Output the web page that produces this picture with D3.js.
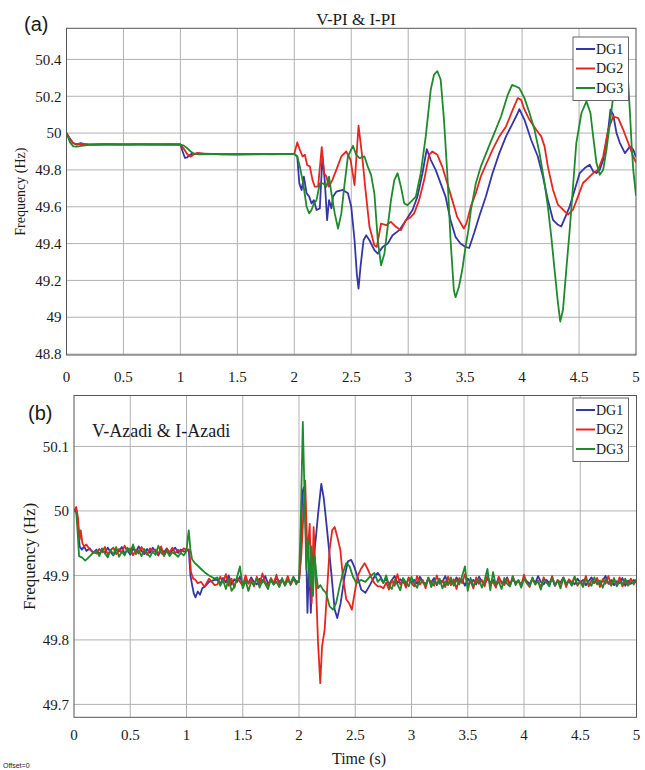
<!DOCTYPE html>
<html>
<head>
<meta charset="utf-8">
<script src="https://cdn.jsdelivr.net/npm/d3@7"></script>
<style>
  body { margin: 0; background: #fff; }
  svg text { font-family: "Liberation Serif", "Times New Roman", serif; fill: #1a1a1a; }
</style>
</head>
<body>
<div id="chart"></div>
<script>
// ---- data ----
const timeTicks = [0, 0.5, 1, 1.5, 2, 2.5, 3, 3.5, 4, 4.5, 5];
const freqTicksA = [48.8, 49, 49.2, 49.4, 49.6, 49.8, 50, 50.2, 50.4];
const freqTicksB = [49.7, 49.8, 49.9, 50, 50.1];
const seriesNames = ["DG1", "DG2", "DG3"];

// (a) V-PI & I-PI : [time s, frequency Hz]
const piDG1 = [[0,50],[0.03,49.97],[0.06,49.945],[0.09,49.937],[0.12,49.945],[0.16,49.94],[0.25,49.938],[0.4,49.94],[0.55,49.938],[0.7,49.94],[0.85,49.938],[1.0,49.938],
  [1.02,49.9],[1.04,49.865],[1.06,49.868],[1.08,49.88],[1.1,49.887],[1.2,49.888],[1.35,49.885],[1.5,49.886],[1.65,49.884],[1.8,49.886],[2.0,49.887],
  [2.026,49.873],[2.044,49.727],[2.064,49.691],[2.084,49.764],[2.108,49.673],[2.131,49.655],[2.151,49.618],[2.172,49.636],[2.195,49.582],[2.224,49.591],
  [2.247,49.873],[2.267,49.745],[2.288,49.527],[2.305,49.636],[2.326,49.591],[2.34,49.655],[2.369,49.682],[2.427,49.691],[2.471,49.673],[2.5,49.6],
  [2.529,49.418],[2.549,49.236],[2.564,49.155],[2.581,49.273],[2.608,49.418],[2.631,49.445],[2.66,49.418],[2.703,49.364],[2.733,49.345],[2.776,49.382],
  [2.82,49.4],[2.863,49.445],[2.922,49.473],[2.98,49.527],[3.038,49.582],[3.081,49.655],[3.125,49.782],[3.163,49.913],[3.198,49.855],[3.241,49.8],
  [3.285,49.727],[3.328,49.655],[3.372,49.527],[3.416,49.436],[3.459,49.4],[3.503,49.382],[3.535,49.376],[3.579,49.457],[3.624,49.548],[3.682,49.656],
  [3.741,49.783],[3.8,49.891],[3.859,49.982],[3.918,50.054],[3.962,50.109],[3.976,50.13],[4.021,50.072],[4.079,49.964],[4.138,49.873],[4.182,49.765],
  [4.226,49.638],[4.271,49.529],[4.315,49.502],[4.344,49.493],[4.382,49.548],[4.418,49.602],[4.462,49.692],[4.506,49.783],[4.55,49.81],[4.594,49.828],
  [4.624,49.792],[4.653,49.783],[4.682,49.801],[4.712,49.855],[4.756,50.018],[4.776,50.127],[4.8,50.1],[4.829,50.0],[4.859,49.946],[4.903,49.891],
  [4.947,49.928],[4.976,49.91],[5.0,49.87]];

const piDG2 = [[0,50],[0.03,49.965],[0.06,49.945],[0.09,49.94],[0.13,49.942],[0.2,49.937],[0.3,49.94],[0.45,49.937],[0.6,49.94],[0.75,49.937],[0.9,49.94],[1.0,49.938],
  [1.03,49.915],[1.06,49.885],[1.09,49.872],[1.12,49.885],[1.15,49.893],[1.2,49.888],[1.35,49.886],[1.5,49.884],[1.65,49.887],[1.8,49.885],[2.0,49.887],
  [2.026,49.949],[2.049,49.909],[2.073,49.873],[2.093,49.882],[2.113,49.827],[2.137,49.818],[2.16,49.745],[2.18,49.709],[2.209,49.709],[2.241,49.924],
  [2.262,49.782],[2.282,49.764],[2.305,49.709],[2.334,49.745],[2.369,49.8],[2.413,49.873],[2.456,49.9],[2.494,49.855],[2.529,49.718],[2.564,50.04],
  [2.596,49.873],[2.625,49.691],[2.66,49.491],[2.703,49.391],[2.724,49.382],[2.762,49.509],[2.805,49.5],[2.849,49.518],[2.892,49.491],[2.936,49.473],
  [2.98,49.527],[3.023,49.545],[3.052,49.564],[3.096,49.636],[3.14,49.745],[3.183,49.882],[3.212,49.9],[3.256,49.882],[3.299,49.818],[3.343,49.727],
  [3.387,49.636],[3.43,49.545],[3.488,49.482],[3.512,49.511],[3.55,49.602],[3.594,49.674],[3.638,49.765],[3.682,49.828],[3.741,49.91],[3.8,49.982],
  [3.859,50.036],[3.918,50.127],[3.962,50.19],[3.991,50.181],[4.021,50.127],[4.065,50.072],[4.124,50.018],[4.168,49.982],[4.197,49.928],[4.226,49.819],
  [4.271,49.692],[4.315,49.611],[4.359,49.584],[4.403,49.557],[4.447,49.584],[4.491,49.656],[4.535,49.729],[4.579,49.756],[4.624,49.783],[4.668,49.801],
  [4.712,49.873],[4.756,50.018],[4.8,50.09],[4.844,50.081],[4.888,50.018],[4.932,49.946],[4.976,49.873],[5.0,49.84]];

const piDG3 = [[0,50],[0.03,49.95],[0.06,49.928],[0.09,49.926],[0.13,49.93],[0.2,49.936],[0.4,49.938],[0.6,49.937],[0.8,49.938],[1.0,49.937],
  [1.03,49.932],[1.06,49.918],[1.09,49.9],[1.12,49.888],[1.16,49.885],[1.3,49.886],[1.5,49.885],[1.7,49.886],[2.0,49.886],
  [2.026,49.873],[2.049,49.818],[2.078,49.727],[2.108,49.6],[2.131,49.564],[2.151,49.582],[2.172,49.618],[2.195,49.636],[2.224,49.727],[2.253,49.727],
  [2.282,49.709],[2.305,49.764],[2.326,49.673],[2.355,49.564],[2.384,49.482],[2.413,49.564],[2.442,49.727],[2.471,49.873],[2.515,49.931],[2.544,49.882],
  [2.573,49.864],[2.616,49.873],[2.645,49.818],[2.674,49.773],[2.703,49.673],[2.733,49.418],[2.762,49.282],[2.791,49.345],[2.82,49.491],[2.849,49.636],
  [2.878,49.745],[2.907,49.782],[2.936,49.709],[2.965,49.618],[2.994,49.609],[3.038,49.636],[3.067,49.655],[3.11,49.782],[3.154,49.982],[3.198,50.236],
  [3.227,50.318],[3.256,50.336],[3.285,50.291],[3.314,50.073],[3.343,49.782],[3.372,49.418],[3.401,49.145],[3.416,49.109],[3.445,49.164],[3.474,49.255],
  [3.503,49.38],[3.53,49.48],[3.55,49.58],[3.594,49.728],[3.638,49.819],[3.697,49.91],[3.756,50.0],[3.815,50.09],[3.874,50.208],[3.912,50.262],
  [3.947,50.253],[3.976,50.244],[4.021,50.19],[4.065,50.109],[4.109,50.018],[4.153,49.891],[4.197,49.729],[4.226,49.602],[4.256,49.439],[4.285,49.258],
  [4.315,49.077],[4.335,48.977],[4.359,49.041],[4.388,49.258],[4.418,49.475],[4.447,49.71],[4.476,49.946],[4.521,50.109],[4.565,50.172],[4.6,50.109],
  [4.624,49.982],[4.653,49.837],[4.682,49.774],[4.712,49.801],[4.741,49.91],[4.771,50.054],[4.8,50.2],[4.83,50.28],[4.88,50.34],[4.915,50.33],
  [4.93,50.29],[4.947,50.11],[4.962,49.93],[4.976,49.8],[5.0,49.66]];

// (b) V-Azadi & I-Azadi : transients as [time s, frequency Hz]
const azDG1 = [[0,50],[0.02,50],[0.04,49.97],[0.05,49.945],[0.07,49.94],[0.09,49.945],[0.11,49.938],[0.14,49.942],[0.17,49.935],
  [1.0,49.938],[1.02,49.94],[1.035,49.9],[1.05,49.885],[1.065,49.872],[1.08,49.866],[1.1,49.875],[1.12,49.87],[1.14,49.88],[1.17,49.884],[1.2,49.89],[1.25,49.893],
  [2.0,49.89],[2.015,49.93],[2.03,50.03],[2.045,50.037],[2.06,49.97],[2.075,49.842],[2.09,49.92],[2.105,49.842],[2.12,49.91],[2.148,49.955],[2.17,49.996],
  [2.198,50.042],[2.22,50.02],[2.25,49.97],[2.287,49.904],[2.317,49.847],[2.34,49.834],[2.37,49.857],[2.405,49.898],[2.435,49.922],[2.464,49.924],
  [2.49,49.914],[2.52,49.898],[2.553,49.878],[2.59,49.873],[2.63,49.885],[2.67,49.898],[2.7,49.904]];
const azDG2 = [[0,50],[0.02,50.006],[0.035,49.99],[0.05,49.955],[0.06,49.97],[0.075,49.95],[0.09,49.945],[0.11,49.948],[0.14,49.94],[0.17,49.936],
  [1.0,49.94],[1.025,49.94],[1.04,49.905],[1.06,49.895],[1.08,49.893],[1.1,49.888],[1.13,49.89],[1.16,49.882],[1.2,49.895],[1.25,49.885],
  [2.0,49.89],[2.02,49.93],[2.035,49.98],[2.055,50.047],[2.075,49.929],[2.095,49.98],[2.112,49.857],[2.13,49.975],[2.15,49.89],[2.169,49.796],
  [2.189,49.733],[2.205,49.79],[2.228,49.816],[2.25,49.878],[2.272,49.94],[2.295,49.97],[2.317,49.975],[2.34,49.96],[2.367,49.94],[2.39,49.898],
  [2.42,49.863],[2.445,49.857],[2.47,49.847],[2.49,49.868],[2.52,49.898],[2.55,49.91],[2.583,49.919],[2.61,49.91],[2.64,49.898],[2.67,49.888],[2.7,49.883]];
const azDG3 = [[0,50],[0.02,49.998],[0.035,49.96],[0.045,49.93],[0.07,49.928],[0.1,49.923],[0.13,49.928],[0.17,49.935],
  [1.0,49.938],[1.01,49.955],[1.02,49.97],[1.035,49.94],[1.05,49.925],[1.07,49.92],[1.1,49.915],[1.13,49.91],[1.16,49.905],[1.2,49.9],[1.25,49.895],
  [2.0,49.893],[2.015,49.98],[2.034,50.138],[2.05,50.02],[2.065,49.91],[2.08,49.955],[2.095,49.883],[2.109,49.945],[2.124,49.868],[2.139,49.93],
  [2.155,49.9],[2.169,49.88],[2.19,49.885],[2.213,49.878],[2.24,49.873],[2.272,49.852],[2.302,49.847],[2.33,49.857],[2.361,49.883],[2.39,49.904],
  [2.42,49.919],[2.45,49.914],[2.48,49.898],[2.51,49.888],[2.55,49.893],[2.59,49.89],[2.63,49.898],[2.67,49.904],[2.7,49.89]];

// (b) steady-state ripple, sampled every 0.025 s from the given start time
const rippleStep = 0.025;
const rippleStarts = [0.2, 1.275, 2.725];
const azDG1Ripple = [
  [49.940,49.933,49.941,49.935,49.943,49.936,49.931,49.940,49.937,49.944,49.934,49.939,49.932,49.942,49.936,49.945,
   49.938,49.933,49.941,49.935,49.943,49.937,49.931,49.940,49.936,49.942,49.934,49.939,49.943,49.935,49.940,49.937],
  [49.893,49.887,49.896,49.889,49.900,49.886,49.894,49.890,49.898,49.885,49.893,49.888,49.897,49.890,49.886,
   49.895,49.889,49.899,49.887,49.892,49.886,49.896,49.890,49.894,49.885,49.893,49.888,49.897,49.891],
  [49.898,49.889,49.895,49.886,49.893,49.899,49.888,49.894,49.890,49.885,49.896,49.889,49.893,49.887,49.898,49.891,
   49.886,49.894,49.889,49.896,49.885,49.893,49.890,49.899,49.887,49.892,49.886,49.897,49.890,49.894,49.884,49.895,
   49.889,49.893,49.886,49.898,49.891,49.887,49.895,49.889,49.893,49.885,49.896,49.890,49.888,49.897,49.886,49.894,
   49.889,49.892,49.885,49.896,49.891,49.887,49.894,49.888,49.899,49.890,49.886,49.893,49.888,49.895,49.884,49.892,
   49.889,49.897,49.887,49.893,49.890,49.886,49.895,49.889,49.893,49.885,49.891,49.897,49.888,49.894,49.886,49.892,
   49.899,49.887,49.893,49.885,49.891,49.888,49.896,49.884,49.892,49.887,49.893,49.889]];
const azDG2Ripple = [
  [49.934,49.941,49.936,49.944,49.932,49.939,49.943,49.933,49.941,49.935,49.946,49.937,49.942,49.931,49.940,49.934,
   49.944,49.938,49.932,49.942,49.936,49.940,49.933,49.945,49.930,49.941,49.936,49.943,49.934,49.940,49.936,49.942],
  [49.886,49.898,49.889,49.902,49.884,49.895,49.881,49.897,49.890,49.884,49.900,49.887,49.894,49.883,49.898,
   49.886,49.903,49.889,49.884,49.896,49.888,49.901,49.883,49.893,49.887,49.899,49.885,49.894,49.889],
  [49.883,49.880,49.889,49.878,49.893,49.884,49.902,49.886,49.894,49.881,49.897,49.888,49.883,49.899,49.886,49.893,
   49.880,49.896,49.889,49.884,49.900,49.887,49.892,49.882,49.898,49.885,49.894,49.879,49.896,49.888,49.902,49.885,
   49.891,49.880,49.897,49.887,49.893,49.883,49.900,49.886,49.890,49.881,49.898,49.888,49.885,49.895,49.883,49.899,
   49.887,49.892,49.884,49.901,49.888,49.882,49.895,49.886,49.892,49.881,49.897,49.889,49.885,49.899,49.884,49.893,
   49.887,49.896,49.882,49.894,49.888,49.898,49.884,49.891,49.886,49.899,49.883,49.892,49.888,49.896,49.882,49.894,
   49.887,49.899,49.884,49.893,49.886,49.897,49.883,49.891,49.888,49.895,49.886,49.894]];
const azDG3Ripple = [
  [49.938,49.930,49.942,49.934,49.928,49.940,49.932,49.944,49.929,49.937,49.931,49.943,49.935,49.948,49.933,49.939,
   49.930,49.941,49.934,49.929,49.937,49.932,49.946,49.935,49.931,49.938,49.930,49.936,49.933,49.929,49.935,49.931],
  [49.897,49.884,49.893,49.879,49.895,49.876,49.882,49.898,49.914,49.880,49.892,49.876,49.890,49.885,49.896,
   49.881,49.893,49.887,49.879,49.894,49.886,49.890,49.882,49.896,49.884,49.893,49.887,49.898,49.886],
  [49.895,49.888,49.900,49.884,49.879,49.893,49.886,49.877,49.896,49.889,49.883,49.898,49.887,49.881,49.894,49.889,
   49.885,49.897,49.882,49.892,49.887,49.895,49.880,49.891,49.885,49.897,49.884,49.893,49.886,49.899,49.914,49.876,
   49.896,49.884,49.889,49.895,49.881,49.893,49.910,49.877,49.905,49.884,49.891,49.879,49.896,49.887,49.883,49.898,
   49.885,49.893,49.881,49.895,49.888,49.884,49.897,49.886,49.891,49.878,49.894,49.889,49.883,49.897,49.885,49.892,
   49.880,49.896,49.887,49.891,49.884,49.898,49.886,49.890,49.882,49.895,49.888,49.884,49.897,49.886,49.892,49.881,
   49.894,49.889,49.885,49.896,49.883,49.891,49.887,49.895,49.884,49.890,49.888,49.893]];

// ---- layout ----
const W = 645, H = 770;
const colors = ["#3535a8", "#e8241f", "#1f8a2c"];

function withRipple(transient, ripple) {
  const pts = transient.slice();
  ripple.forEach((vals, k) => {
    vals.forEach((v, i) => pts.push([rippleStarts[k] + i * rippleStep, v]));
  });
  return pts.sort((a, b) => a[0] - b[0]);
}

const panels = [
  {
    id: "a", left: 66.5, right: 636, top: 28.3, bottom: 355,
    yDomain: [48.795, 50.569], yTicks: freqTicksA,
    series: [piDG1, piDG2, piDG3],
    xLabelY: 382, yLabelX: 20, tag: "(a)", tagX: 24, tagY: 31,
    legend: { x: 573, y: 37 }
  },
  {
    id: "b", left: 74, right: 636.5, top: 395.5, bottom: 717.3,
    yDomain: [49.68, 50.179], yTicks: freqTicksB,
    series: [withRipple(azDG1, azDG1Ripple), withRipple(azDG2, azDG2Ripple), withRipple(azDG3, azDG3Ripple)],
    xLabelY: 740, yLabelX: 29, tag: "(b)", tagX: 28, tagY: 420,
    legend: { x: 573, y: 398 }
  }
];

const svg = d3.select("#chart")
  .append("svg")
  .attr("width", W)
  .attr("height", H)
  .style("display", "block");

panels.forEach(p => {
  const x = d3.scaleLinear().domain([0, 5]).range([p.left, p.right]);
  const y = d3.scaleLinear().domain(p.yDomain).range([p.bottom, p.top]);
  const g = svg.append("g").attr("class", "panel-" + p.id);

  g.append("clipPath").attr("id", "clip-" + p.id)
    .append("rect")
    .attr("x", p.left).attr("y", p.top)
    .attr("width", p.right - p.left).attr("height", p.bottom - p.top);

  // grid
  g.append("g").selectAll("line")
    .data(timeTicks.slice(1, -1))
    .join("line")
    .attr("x1", d => x(d)).attr("x2", d => x(d))
    .attr("y1", p.top).attr("y2", p.bottom)
    .attr("stroke", "#b4b0b0").attr("stroke-width", 1);
  g.append("g").selectAll("line")
    .data(p.yTicks)
    .join("line")
    .attr("x1", p.left).attr("x2", p.right)
    .attr("y1", d => y(d)).attr("y2", d => y(d))
    .attr("stroke", "#b4b0b0").attr("stroke-width", 1);

  // tick labels
  g.append("g").selectAll("text")
    .data(timeTicks)
    .join("text")
    .attr("x", d => x(d))
    .attr("y", p.xLabelY)
    .attr("text-anchor", "middle")
    .attr("font-size", 15)
    .text(d => String(d));
  g.append("g").selectAll("text")
    .data(p.yTicks)
    .join("text")
    .attr("x", p.left - 5)
    .attr("y", d => y(d))
    .attr("dy", "0.35em")
    .attr("text-anchor", "end")
    .attr("font-size", 15)
    .text(d => String(+d.toFixed(1)));

  // lines
  const line = d3.line().x(d => x(d[0])).y(d => y(d[1]));
  g.append("g").attr("clip-path", `url(#clip-${p.id})`)
    .selectAll("path")
    .data(p.series)
    .join("path")
    .attr("d", line)
    .attr("fill", "none")
    .attr("stroke", (d, i) => colors[i])
    .attr("stroke-width", 1.8)
    .attr("stroke-linejoin", "round");

  // frame
  g.append("rect")
    .attr("x", p.left).attr("y", p.top)
    .attr("width", p.right - p.left).attr("height", p.bottom - p.top)
    .attr("fill", "none").attr("stroke", "#555").attr("stroke-width", 1);

  // y label
  g.append("text")
    .attr("transform", `translate(${p.yLabelX},${(p.top + p.bottom) / 2}) rotate(-90)`)
    .attr("text-anchor", "middle")
    .attr("dy", "0.35em")
    .attr("font-size", p.id === "a" ? 14 : 17)
    .text("Frequency (Hz)");

  // panel tag
  g.append("text")
    .attr("x", p.tagX).attr("y", p.tagY)
    .style("font-family", "'Liberation Sans', Arial, sans-serif")
    .attr("font-size", 20)
    .text(p.tag);

  // legend
  const lg = g.append("g").attr("transform", `translate(${p.legend.x},${p.legend.y})`);
  lg.append("rect")
    .attr("width", 55.5).attr("height", 63.5)
    .attr("fill", "#fff").attr("stroke", "#666").attr("stroke-width", 1);
  seriesNames.forEach((name, i) => {
    const ly = 12 + i * 19.5;
    lg.append("line")
      .attr("x1", 3).attr("x2", 22)
      .attr("y1", ly).attr("y2", ly)
      .attr("stroke", colors[i]).attr("stroke-width", 2);
    lg.append("text")
      .attr("x", 23).attr("y", ly)
      .attr("dy", "0.35em")
      .attr("font-size", 14)
      .text(name);
  });
});

// titles and annotations
svg.append("text")
  .attr("x", 356).attr("y", 25)
  .attr("text-anchor", "middle")
  .attr("font-size", 17)
  .text("V-PI & I-PI");

svg.append("text")
  .attr("x", 92).attr("y", 437)
  .attr("font-size", 18)
  .text("V-Azadi & I-Azadi");

svg.append("text")
  .attr("x", 359).attr("y", 764)
  .attr("text-anchor", "middle")
  .attr("font-size", 16)
  .text("Time (s)");

svg.append("text")
  .attr("x", 3).attr("y", 768)
  .style("font-family", "'Liberation Sans', Arial, sans-serif")
  .attr("font-size", 7)
  .text("Offset=0");
</script>
</body>
</html>
